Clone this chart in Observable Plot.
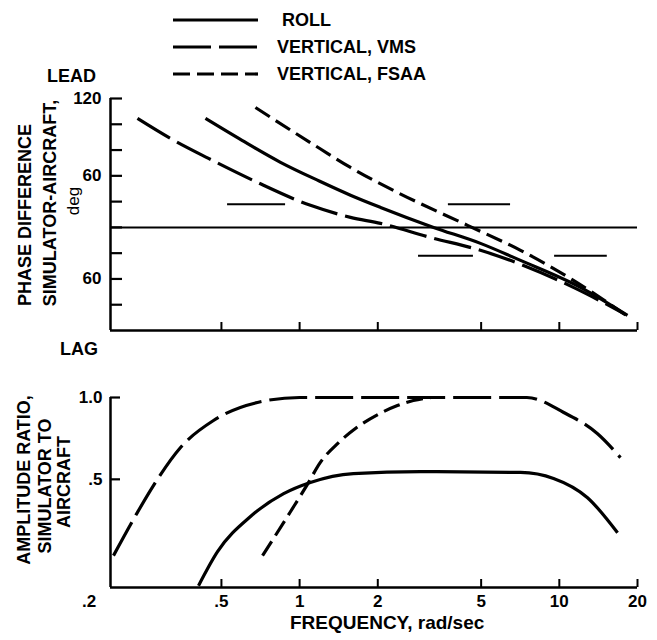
<!DOCTYPE html>
<html><head><meta charset="utf-8">
<script src="https://cdn.jsdelivr.net/npm/d3@7"></script>
<script src="https://cdn.jsdelivr.net/npm/@observablehq/plot@0.6"></script>
<style>
body{margin:0;background:#fff;}
#fig{position:relative;width:657px;height:640px;font-family:"Liberation Sans",Arial,sans-serif;font-weight:bold;color:#000;overflow:hidden;background:#fff}
#fig svg{position:absolute;left:0}
.lbl{position:absolute;white-space:nowrap;font-size:18px;line-height:1}
.rot{position:absolute;white-space:nowrap;font-size:18px;line-height:1;transform:translate(-50%,-50%) rotate(-90deg)}
</style></head><body><div id="fig"></div>
<script>
// ---------- data ----------
const freqTicks = [0.2, 0.5, 1, 2, 5, 10, 20];
const freqTickLabels = [".2", ".5", "1", "2", "5", "10", "20"];
const phaseTicks = [100, 80, 60, 40, 20, 0, -20, -40, -60];
const phaseLabelTicks = [100, 40, -40];
const phaseTickLabels = ["120", "60", "60"];
const ampTicks = [1.0, 0.5];
const ampTickLabels = ["1.0", ".5"];

const seriesNames = ["ROLL", "VERTICAL, VMS", "VERTICAL, FSAA"];

// phase difference (top panel)
const rollPhaseF = [0.434, 0.6, 0.844, 1.19, 1.57, 2.05, 3.28, 4.97, 7.09, 12.06, 18.3];
const rollPhaseV = [84.5, 67.5, 50.5, 36.0, 25.0, 15.5, 0.0, -12.4, -25.6, -46.5, -68.2];
const vmsPhaseF = [0.2375, 0.318, 0.446, 0.688, 1.101, 1.57, 2.05, 3.19, 4.97, 7.28, 11.33, 17.67];
const vmsPhaseV = [84.5, 69.0, 53.5, 34.9, 17.1, 7.8, 3.1, -7.8, -17.8, -29.5, -46.5, -66.7];
const fsaaPhaseF = [0.676, 1.2, 1.57, 2.38, 4.43, 7.09, 11.33, 18.3];
const fsaaPhaseV = [93.0, 61.0, 46.5, 27.1, 1.6, -17.8, -41.1, -69.0];

// boundary bars (top panel)
const barLevel = [18, 18, -22, -22];
const barFrom = [0.528, 3.74, 2.87, 9.59];
const barTo = [0.883, 6.49, 4.67, 15.3];

// amplitude ratio (bottom panel)
const rollAmpF = [0.408, 0.483, 0.647, 0.868, 1.10, 1.61, 2.92, 7.09, 9.50, 12.84, 16.76];
const rollAmpV = [0.203, 0.271, 0.365, 0.443, 0.487, 0.525, 0.534, 0.53, 0.504, 0.428, 0.318];
const vmsAmpF = [0.192, 0.2375, 0.274, 0.348, 0.466, 0.688, 1.0, 7.5, 10.4, 14.0, 17.2];
const vmsAmpV = [0.262, 0.378, 0.475, 0.655, 0.823, 0.959, 1.0, 1.0, 0.881, 0.737, 0.601];
const fsaaAmpF = [0.72, 0.922, 1.073, 1.20, 1.40, 1.64, 2.0, 2.38, 2.74, 3.2];
const fsaaAmpV = [0.262, 0.38, 0.48, 0.576, 0.677, 0.769, 0.865, 0.934, 0.975, 1.0];

// ---------- layout ----------
const W = 657, X0 = 110, X1 = 637;
const FONT = "'Liberation Sans', Arial, sans-serif";
const dashes = [null, "38,8", "17,7"];
const toRows = (F, V) => F.map((f, i) => ({f, v: V[i]}));
const xDomain = [0.187, 20];

const fig = document.getElementById("fig");

function curves(sets) {
  return sets.map((rows, i) => Plot.line(rows, {
    x: "f", y: "v", curve: "monotone-x", stroke: "black",
    strokeWidth: 3.2, strokeDasharray: dashes[i], strokeLinecap: "butt"
  }));
}

// top panel: phase difference
const topH = 360, topMT = 98, topMB = 30;
const topPlot = Plot.plot({
  width: W, height: topH,
  marginLeft: X0, marginRight: W - X1, marginTop: topMT, marginBottom: topMB,
  x: {type: "log", domain: xDomain, axis: null},
  y: {domain: [-80, 100], axis: null},
  style: {fontFamily: FONT, background: "transparent", color: "black", overflow: "visible"},
  marks: [
    Plot.ruleY([-80], {strokeWidth: 2.5}),
    Plot.ruleX([xDomain[0]], {strokeWidth: 2.5}),
    Plot.ruleY([0], {strokeWidth: 2}),
    Plot.tickY(phaseTicks, {y: d => d, insetRight: (X1 - X0) - 12, strokeWidth: 2.2}),
    Plot.tickX(freqTicks.slice(1), {x: d => d, insetTop: (topH - topMT - topMB) - 8, strokeWidth: 2}),
    Plot.ruleY(barLevel.map((v, i) => ({v, f1: barFrom[i], f2: barTo[i]})), {y: "v", x1: "f1", x2: "f2", strokeWidth: 2}),
    ...curves([toRows(rollPhaseF, rollPhaseV), toRows(vmsPhaseF, vmsPhaseV), toRows(fsaaPhaseF, fsaaPhaseV)]),
    Plot.axisY({ticks: phaseLabelTicks, tickFormat: d => phaseTickLabels[phaseLabelTicks.indexOf(d)],
      tickSize: 0, tickPadding: 9, fontSize: 17, fontWeight: "bold", label: null})
  ]
});
topPlot.style.top = "0px";
fig.appendChild(topPlot);

// bottom panel: amplitude ratio
const botTop = 360, botH = 280, botMT = 37, botMB = 53;
const botPlot = Plot.plot({
  width: W, height: botH,
  marginLeft: X0, marginRight: W - X1, marginTop: botMT, marginBottom: botMB,
  x: {type: "log", domain: xDomain, axis: null},
  y: {type: "log", domain: [0.2, 1], axis: null},
  style: {fontFamily: FONT, background: "transparent", color: "black", overflow: "visible"},
  marks: [
    Plot.ruleY([0.2], {strokeWidth: 2.5}),
    Plot.ruleX([xDomain[0]], {y1: 0.2, y2: 1, strokeWidth: 2.5}),
    Plot.tickY(ampTicks, {y: d => d, insetRight: (X1 - X0) - 10, strokeWidth: 2.2}),
    Plot.tickX(freqTicks.slice(1), {x: d => d, insetTop: (botH - botMT - botMB) - 8, strokeWidth: 2}),
    ...curves([toRows(rollAmpF, rollAmpV), toRows(vmsAmpF, vmsAmpV), toRows(fsaaAmpF, fsaaAmpV)]),
    Plot.axisY({ticks: ampTicks, tickFormat: d => ampTickLabels[ampTicks.indexOf(d)],
      tickSize: 0, tickPadding: 8, fontSize: 17, fontWeight: "bold", label: null}),
    Plot.axisX({ticks: freqTicks.slice(1), tickFormat: d => freqTickLabels[freqTicks.indexOf(d)],
      tickSize: 0, tickPadding: 7, fontSize: 17, fontWeight: "bold", label: null}),
    Plot.axisX({ticks: freqTicks.slice(0, 1), tickFormat: d => freqTickLabels[freqTicks.indexOf(d)],
      tickSize: 0, tickPadding: 7, dx: -29, fontSize: 17, fontWeight: "bold", label: null})
  ]
});
botPlot.style.top = botTop + "px";
fig.appendChild(botPlot);

// legend
const legY = [20, 47, 74];
const ns = "http://www.w3.org/2000/svg";
const leg = document.createElementNS(ns, "svg");
leg.setAttribute("width", W); leg.setAttribute("height", 90);
leg.style.top = "0px";
seriesNames.forEach((name, i) => {
  const ln = document.createElementNS(ns, "line");
  ln.setAttribute("x1", 173); ln.setAttribute("x2", 258);
  ln.setAttribute("y1", legY[i]); ln.setAttribute("y2", legY[i]);
  ln.setAttribute("stroke", "black"); ln.setAttribute("stroke-width", 3.2);
  if (dashes[i]) ln.setAttribute("stroke-dasharray", dashes[i]);
  leg.appendChild(ln);
  const tx = document.createElementNS(ns, "text");
  tx.setAttribute("x", i === 0 ? 282 : 277); tx.setAttribute("y", legY[i]);
  tx.setAttribute("dy", "0.36em");
  tx.setAttribute("font-family", FONT); tx.setAttribute("font-weight", "bold"); tx.setAttribute("font-size", 18);
  tx.textContent = name;
  leg.appendChild(tx);
});
fig.appendChild(leg);

// text labels
function addLabel(text, css, cls) {
  const d = document.createElement("div");
  d.className = cls || "lbl";
  d.textContent = text;
  Object.assign(d.style, css);
  fig.appendChild(d);
}
addLabel("LEAD", {left: "47px", top: "67px"});
addLabel("LAG", {left: "60px", top: "340px"});
addLabel("PHASE DIFFERENCE", {left: "25px", top: "215px"}, "rot");
addLabel("SIMULATOR-AIRCRAFT,", {left: "50px", top: "203px"}, "rot");
addLabel("deg", {left: "73px", top: "201px", fontWeight: "normal", fontSize: "17px"}, "rot");
addLabel("AMPLITUDE RATIO,", {left: "24px", top: "480px"}, "rot");
addLabel("SIMULATOR TO", {left: "45px", top: "486px"}, "rot");
addLabel("AIRCRAFT", {left: "64px", top: "482px"}, "rot");
addLabel("FREQUENCY, rad/sec", {left: "290px", top: "613px", fontSize: "19px"});
</script></body></html>
